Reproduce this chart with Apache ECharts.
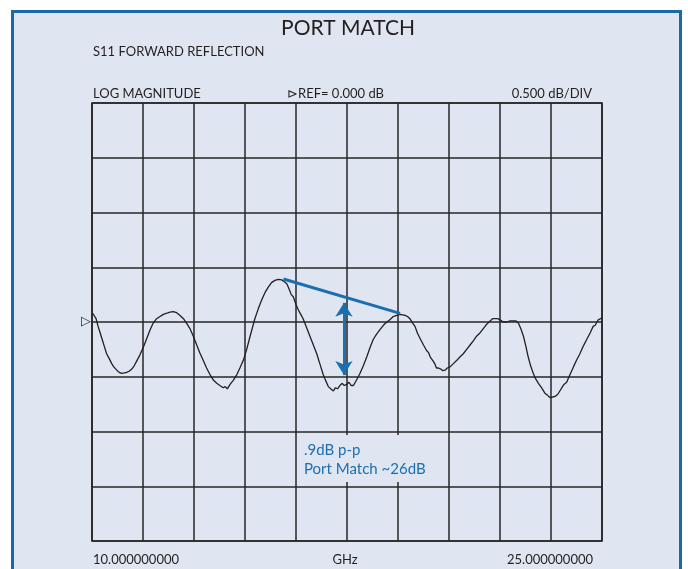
<!DOCTYPE html>
<html>
<head>
<meta charset="utf-8">
<script src="https://cdn.jsdelivr.net/npm/echarts@6/dist/echarts.min.js"></script>
<style>
  html, body { margin: 0; padding: 0; background: #ffffff; }
  #frame { position: absolute; left: 11px; top: 10px; width: 665px; height: 620px;
           border: 3px solid #1b6aa8; background: #dfe6f1; }
  #chart { position: absolute; left: 0; top: 0; width: 688px; height: 569px; }
</style>
</head>
<body>
<div id="frame"></div>
<div id="chart"></div>
<script>
// ---- Data ----
const title = 'PORT MATCH';
const subtitle = 'S11 FORWARD REFLECTION';
const topLabels = ['LOG MAGNITUDE', '\u22B3REF= 0.000 dB', '0.500 dB/DIV'];
const bottomLabels = ['10.000000000', 'GHz', '25.000000000'];
const annotationText = ['.9dB p-p', 'Port Match ~26dB'];

// frequency axis (GHz) and scale (dB)
const freqMin = 10, freqMax = 25;
const dbMin = -2, dbMax = 2, dbPerDiv = 0.5;
const xDivisions = 10;

// S11 trace: frequency (GHz) and magnitude (dB)
const traceFreq = [
  10.02,10.06,10.12,10.18,10.24,10.30,10.36,10.43,10.50,10.58,10.64,10.73,10.80,10.87,10.95,
  11.02,11.09,11.17,11.24,11.31,11.41,11.51,11.61,11.71,11.80,11.90,12.00,12.10,12.20,12.29,
  12.39,12.49,12.59,12.69,12.78,12.88,12.98,13.08,13.17,13.27,13.37,13.47,13.57,13.67,13.76,
  13.86,13.92,13.98,14.06,14.16,14.26,14.35,14.45,14.55,14.65,14.72,14.79,14.89,14.99,15.09,
  15.19,15.28,15.38,15.48,15.58,15.65,15.73,15.80,15.86,15.92,16.00,16.07,16.14,16.21,16.31,
  16.41,16.51,16.61,16.70,16.80,16.88,16.95,17.02,17.10,17.16,17.22,17.29,17.36,17.42,17.49,
  17.56,17.62,17.69,17.78,17.88,17.98,18.08,18.17,18.27,18.37,18.47,18.57,18.67,18.76,18.86,
  18.96,19.06,19.14,19.21,19.28,19.35,19.43,19.50,19.57,19.65,19.75,19.84,19.90,19.95,20.02,
  20.08,20.13,20.19,20.26,20.32,20.38,20.45,20.53,20.63,20.73,20.82,20.92,21.02,21.12,21.22,
  21.31,21.41,21.51,21.61,21.71,21.78,21.85,21.93,22.00,22.10,22.20,22.30,22.39,22.47,22.54,
  22.61,22.69,22.76,22.83,22.90,22.98,23.05,23.13,23.22,23.32,23.40,23.47,23.55,23.62,23.70,
  23.76,23.81,23.88,23.96,24.06,24.16,24.25,24.35,24.45,24.55,24.65,24.74,24.80,24.85,24.89,
  24.95,25.00
];
const traceDb = [
  0.08,0.09,0.03,-0.04,-0.10,-0.16,-0.22,-0.29,-0.33,-0.38,-0.41,-0.44,-0.46,-0.47,-0.465,
  -0.46,-0.45,-0.43,-0.40,-0.36,-0.30,-0.23,-0.15,-0.07,-0.01,0.03,0.05,0.07,0.08,0.09,
  0.095,0.085,0.06,0.03,-0.01,-0.06,-0.13,-0.21,-0.28,-0.35,-0.42,-0.48,-0.53,-0.56,-0.58,
  -0.60,-0.59,-0.61,-0.57,-0.53,-0.48,-0.42,-0.35,-0.25,-0.13,-0.05,0.03,0.12,0.20,0.27,
  0.32,0.36,0.38,0.39,0.385,0.37,0.35,0.30,0.25,0.23,0.16,0.11,0.07,0.03,-0.05,
  -0.13,-0.21,-0.29,-0.38,-0.48,-0.54,-0.59,-0.61,-0.63,-0.60,-0.61,-0.58,-0.56,-0.58,-0.57,
  -0.55,-0.58,-0.58,-0.53,-0.47,-0.40,-0.32,-0.24,-0.16,-0.11,-0.07,-0.03,0.00,0.02,0.05,
  0.06,0.07,0.065,0.06,0.05,0.03,-0.01,-0.04,-0.10,-0.15,-0.21,-0.26,-0.28,-0.32,-0.35,
  -0.38,-0.42,-0.42,-0.43,-0.445,-0.44,-0.42,-0.41,-0.38,-0.35,-0.32,-0.29,-0.25,-0.21,-0.17,
  -0.13,-0.10,-0.06,-0.02,0.01,0.03,0.03,0.03,0.02,0.00,0.00,0.01,0.01,0.01,-0.01,
  -0.06,-0.13,-0.22,-0.32,-0.40,-0.47,-0.52,-0.56,-0.60,-0.65,-0.67,-0.69,-0.685,-0.68,-0.66,
  -0.63,-0.64,-0.57,-0.55,-0.48,-0.41,-0.35,-0.29,-0.22,-0.16,-0.10,-0.04,-0.03,0.00,0.02,
  0.03,0.035
];

// annotation: peak-to-peak line and the vertical double arrow
const peakLineFreq = [15.63, 19.06];
const peakLineDb = [0.393, 0.079];
const arrowFreq = [17.41, 17.41];
const arrowDb = [0.175, -0.485];

// ---- Chart ----
const ink = '#231f20';
const blue = '#1b6fb0';
const bg = '#dfe6f1';
const uiFont = 'Lato, "Open Sans", sans-serif';

const chart = echarts.init(document.getElementById('chart'), null, { renderer: 'canvas' });

const traceData = traceFreq.map((f, i) => [f, traceDb[i]]);
const peakLineData = peakLineFreq.map((f, i) => [f, peakLineDb[i]]);

function txt(text, x, y, align, size, color) {
  return {
    type: 'text', x: x, y: y, z: 120,
    style: { text: text, textAlign: align, textVerticalAlign: 'middle',
             fontSize: size, fontFamily: uiFont, fill: color || ink }
  };
}

chart.setOption({
  animation: false,
  backgroundColor: 'transparent',
  grid: { left: 92, top: 103, width: 510, height: 438, show: true,
          borderColor: '#262626', borderWidth: 1.6, backgroundColor: 'transparent' },
  xAxis: [
    { // division axis used to draw the 10 vertical graticule lines
      type: 'value', min: 0, max: xDivisions, interval: 1,
      axisLine: { show: false }, axisTick: { show: false }, axisLabel: { show: false },
      splitLine: { show: true, lineStyle: { color: '#262626', width: 1.5 } }
    },
    { // frequency axis (GHz)
      type: 'value', min: freqMin, max: freqMax, show: false
    }
  ],
  yAxis: {
    type: 'value', min: dbMin, max: dbMax, interval: dbPerDiv,
    axisLine: { show: false }, axisTick: { show: false },
    axisLabel: {
      show: true, margin: 1, color: ink, fontSize: 13, fontFamily: 'DejaVu Sans',
      formatter: v => (v === 0 ? '\u25B7' : '')
    },
    splitLine: { show: true, lineStyle: { color: '#262626', width: 1.5 } }
  },
  series: [
    {
      name: 'S11', type: 'line', xAxisIndex: 1, data: traceData,
      showSymbol: false, symbol: 'none', smooth: false,
      lineStyle: { color: ink, width: 1.3 }, z: 5
    },
    {
      name: 'peak line', type: 'line', xAxisIndex: 1, data: peakLineData,
      showSymbol: false, symbol: 'none',
      lineStyle: { color: blue, width: 3 }, z: 6,
      markLine: {
        silent: true, symbol: ['arrow', 'arrow'], symbolSize: [13, 14],
        label: { show: false },
        lineStyle: { color: blue, width: 3, type: 'solid' },
        data: [[ { coord: [arrowFreq[0], arrowDb[0]] }, { coord: [arrowFreq[1], arrowDb[1]] } ]]
      }
    }
  ],
  graphic: [
    txt(title, 348, 28, 'center', 21, ink),
    txt(subtitle, 93, 51.5, 'left', 13, ink),
    txt(topLabels[0], 93, 94, 'left', 13, ink),
    txt(topLabels[1], 287, 94, 'left', 13, ink),
    txt(topLabels[2], 592, 94, 'right', 13, ink),
    txt(bottomLabels[0], 93, 560, 'left', 13, ink),
    txt(bottomLabels[1], 345, 560, 'center', 13, ink),
    txt(bottomLabels[2], 593, 560, 'right', 13, ink),
    { type: 'rect', z: 110, shape: { x: 300, y: 435, width: 138, height: 47 },
      style: { fill: bg } },
    txt(annotationText[0], 304, 450, 'left', 15, blue),
    txt(annotationText[1], 304, 469, 'left', 15, blue)
  ]
});
</script>
</body>
</html>
